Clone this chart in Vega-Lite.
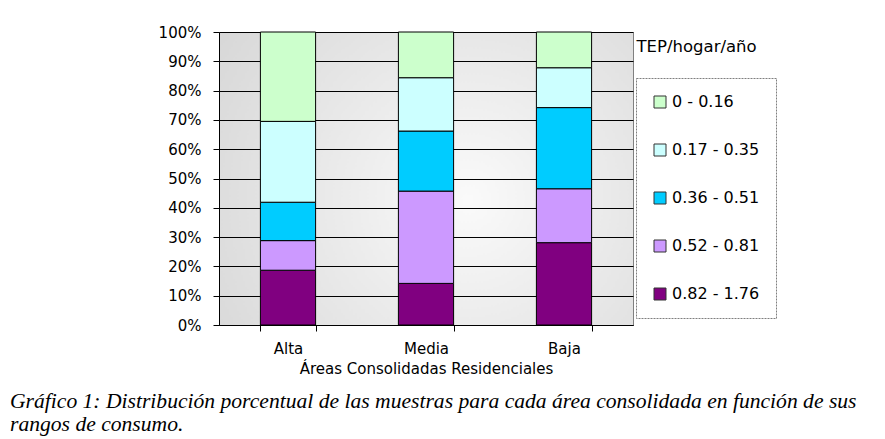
{
  "$schema": "https://vega.github.io/schema/vega-lite/v6.json",
  "autosize": {"type": "none"},
  "width": 414,
  "height": 293,
  "padding": {"left": 219, "top": 32, "right": 252, "bottom": 114},
  "background": "white",
  "title": {
    "text": ["Gráfico 1: Distribución porcentual de las muestras para cada área consolidada en función  de sus", "rangos de consumo."],
    "orient": "bottom",
    "anchor": "start",
    "frame": "group",
    "dx": -209,
    "offset": 15,
    "font": "Liberation Serif",
    "fontStyle": "italic",
    "fontWeight": "normal",
    "fontSize": 21.6,
    "lineHeight": 23,
    "color": "black"
  },
  "data": {
    "values": [
      {"area": "Alta", "rango": "0.82 - 1.76", "pct": 18.7},
      {"area": "Alta", "rango": "0.52 - 0.81", "pct": 10.1},
      {"area": "Alta", "rango": "0.36 - 0.51", "pct": 13.1},
      {"area": "Alta", "rango": "0.17 - 0.35", "pct": 27.6},
      {"area": "Alta", "rango": "0 - 0.16", "pct": 30.5},
      {"area": "Media", "rango": "0.82 - 1.76", "pct": 14.2},
      {"area": "Media", "rango": "0.52 - 0.81", "pct": 31.5},
      {"area": "Media", "rango": "0.36 - 0.51", "pct": 20.5},
      {"area": "Media", "rango": "0.17 - 0.35", "pct": 18.2},
      {"area": "Media", "rango": "0 - 0.16", "pct": 15.6},
      {"area": "Baja", "rango": "0.82 - 1.76", "pct": 28.1},
      {"area": "Baja", "rango": "0.52 - 0.81", "pct": 18.4},
      {"area": "Baja", "rango": "0.36 - 0.51", "pct": 27.7},
      {"area": "Baja", "rango": "0.17 - 0.35", "pct": 13.6},
      {"area": "Baja", "rango": "0 - 0.16", "pct": 12.2}
    ]
  },
  "mark": {"type": "bar", "stroke": "black", "strokeWidth": 1},
  "encoding": {
    "x": {
      "field": "area",
      "type": "nominal",
      "sort": ["Alta", "Media", "Baja"],
      "scale": {"paddingInner": 0.6, "paddingOuter": 0.3},
      "axis": {
        "title": "Áreas Consolidadas Residenciales",
        "labelAngle": 0,
        "tickBand": "extent",
        "tickSize": 6,
        "tickColor": "black",
        "domainColor": "black",
        "labelFont": "DejaVu Sans",
        "labelFontSize": 15,
        "labelColor": "black",
        "labelPadding": 10,
        "titleFont": "DejaVu Sans",
        "titleFontSize": 15,
        "titleFontWeight": "normal",
        "titleColor": "black",
        "titlePadding": 5
      }
    },
    "y": {
      "field": "pct",
      "type": "quantitative",
      "stack": "normalize",
      "scale": {"domain": [0, 1]},
      "axis": {
        "format": ".0%",
        "values": [0, 0.1, 0.2, 0.3, 0.4, 0.5, 0.6, 0.7, 0.8, 0.9, 1],
        "grid": true,
        "gridColor": "black",
        "gridOpacity": 1,
        "tickSize": 6,
        "tickColor": "black",
        "domainColor": "black",
        "labelPadding": 12,
        "labelFont": "DejaVu Sans",
        "labelFontSize": 15,
        "labelColor": "black",
        "title": "TEP/hogar/año",
        "titleAngle": 0,
        "titleX": 417,
        "titleY": 14,
        "titleAlign": "left",
        "titleBaseline": "middle",
        "titleFont": "DejaVu Sans",
        "titleFontSize": 16.5,
        "titleFontWeight": "normal",
        "titleColor": "black"
      }
    },
    "fill": {
      "field": "rango",
      "type": "nominal",
      "scale": {
        "domain": ["0 - 0.16", "0.17 - 0.35", "0.36 - 0.51", "0.52 - 0.81", "0.82 - 1.76"],
        "range": ["#CCFFCC", "#CCFFFF", "#00CCFF", "#CC99FF", "#800080"]
      },
      "legend": {
        "title": null,
        "orient": "none",
        "legendX": 417,
        "legendY": 46,
        "direction": "vertical",
        "padding": 16,
        "strokeColor": "#7f7f7f",
        "fillColor": "white",
        "symbolType": "square",
        "symbolSize": 144,
        "symbolStrokeColor": "#333333",
        "symbolStrokeWidth": 1,
        "symbolOpacity": 1,
        "labelFont": "DejaVu Sans",
        "labelFontSize": 16,
        "labelColor": "black",
        "labelOffset": 4,
        "rowPadding": 32
      }
    },
    "order": {"field": "rango", "sort": "descending"}
  },
  "config": {
    "view": {
      "stroke": "#808080",
      "fill": {
        "gradient": "radial",
        "x1": 0.6, "y1": 0.55, "x2": 0.6, "y2": 0.55,
        "r1": 0, "r2": 0.75,
        "stops": [
          {"offset": 0, "color": "#fafafa"},
          {"offset": 1, "color": "#d6d6d6"}
        ]
      }
    },
    "legend": {"strokeDash": [2, 1]}
  }
}
